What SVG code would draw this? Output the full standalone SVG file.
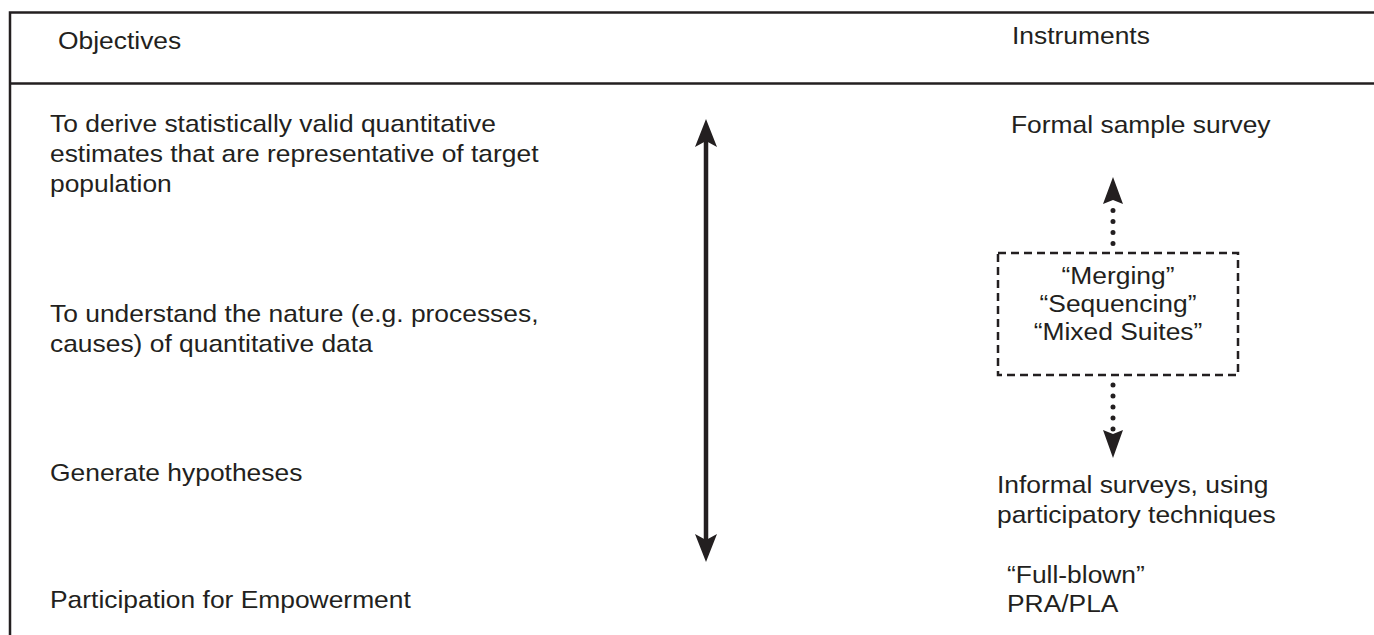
<svg xmlns="http://www.w3.org/2000/svg" width="1374" height="635" viewBox="0 0 1374 635">
<style>
text{font-family:"Liberation Sans",Arial,sans-serif;font-size:24px;fill:#231f20}
.frame{stroke:#231f20;stroke-width:2.5;fill:none}
.shaft{stroke:#231f20;stroke-width:4.5;fill:none}
.dots{stroke:#231f20;stroke-width:5;stroke-linecap:round;stroke-dasharray:0 11;fill:none}
.dash{stroke:#231f20;stroke-width:2.5;stroke-dasharray:8 5;fill:none}
.head{fill:#231f20}
</style>
<rect width="1374" height="635" fill="#fff"/>
<g id="frame">
<path class="frame" d="M10,635 V12.5 H1374 M10,83.5 H1374"/>
</g>
<g id="headers">
<text transform="translate(58,49) scale(1.1,1)">Objectives</text>
<text transform="translate(1012,44) scale(1.1,1)">Instruments</text>
</g>
<g id="objectives">
<text transform="translate(50,132) scale(1.1,1)">To derive statistically valid quantitative</text>
<text transform="translate(50,162) scale(1.1,1)">estimates that are representative of target</text>
<text transform="translate(50,192) scale(1.1,1)">population</text>
<text transform="translate(50,322) scale(1.1,1)">To understand the nature (e.g. processes,</text>
<text transform="translate(50,352) scale(1.1,1)">causes) of quantitative data</text>
<text transform="translate(50,481) scale(1.1,1)">Generate hypotheses</text>
<text transform="translate(50,608) scale(1.1,1)">Participation for Empowerment</text>
</g>
<g id="instruments">
<text transform="translate(1011,133) scale(1.1,1)">Formal sample survey</text>
<text transform="translate(997,493) scale(1.1,1)">Informal surveys, using</text>
<text transform="translate(997,523) scale(1.1,1)">participatory techniques</text>
<text transform="translate(1007,583) scale(1.1,1)">“Full-blown”</text>
<text transform="translate(1007,612) scale(1.1,1)">PRA/PLA</text>
</g>
<g id="mixed">
<rect class="dash" x="998" y="253" width="240" height="122"/>
<text transform="translate(1118,284) scale(1.1,1)" text-anchor="middle">“Merging”</text>
<text transform="translate(1118,312) scale(1.1,1)" text-anchor="middle">“Sequencing”</text>
<text transform="translate(1118,340) scale(1.1,1)" text-anchor="middle">“Mixed Suites”</text>
</g>
<g id="connectors">
<line class="shaft" x1="706" y1="136" x2="706" y2="545"/>
<path class="head" d="M706,119 L717,147 L706,141 L695,147 Z"/>
<path class="head" d="M706,562 L717,534 L706,540 L695,534 Z"/>
<line class="dots" x1="1113" y1="210.5" x2="1113" y2="244"/>
<path class="head" d="M1113,177 L1123,204 L1113,200 L1103,204 Z"/>
<line class="dots" x1="1113" y1="385" x2="1113" y2="430"/>
<path class="head" d="M1113,458 L1123,430 L1113,434 L1103,430 Z"/>
</g>
</svg>
